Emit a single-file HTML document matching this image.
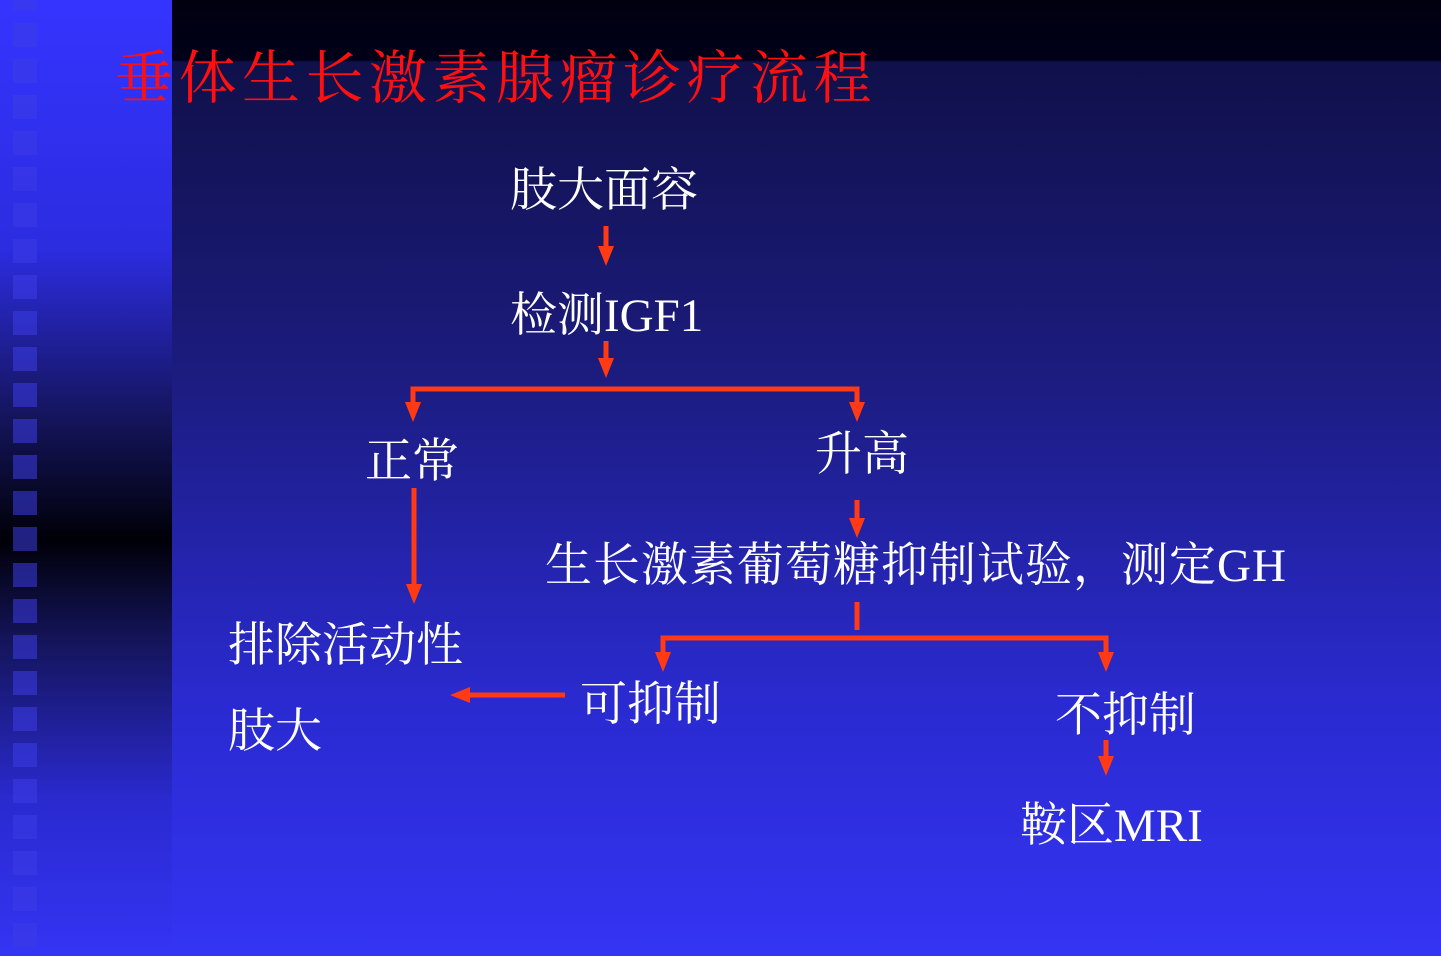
<!DOCTYPE html>
<html><head><meta charset="utf-8"><style>
body{margin:0;width:1441px;height:956px;overflow:hidden;position:relative;
background:linear-gradient(#000010 0,#000018 60px,#10104a 62px,#1c1c80 380px,#2a2ad0 700px,#3434f4 956px);}
#strip{position:absolute;left:0;top:0;width:172px;height:956px;
background:linear-gradient(#3434ff 0,#2c2ce0 250px,#14145a 420px,#000008 540px,#14145a 640px,#2a2ad0 800px,#3434f4 956px);}
.sq{position:absolute;left:13px;width:24px;height:24px;background:rgba(60,60,230,0.55);}
.t{position:absolute;color:#fff;font-family:"Liberation Serif","Noto Serif CJK SC",serif;font-size:47px;line-height:1;white-space:nowrap;}
</style></head><body>
<div id="strip"></div>
<script>
for(let y=-13;y<956;y+=36){document.write('<div class="sq" style="top:'+y+'px"></div>');}
</script>
<div class="t" style="left:115px;top:50px;color:#ff1010;font-size:58px;letter-spacing:5.5px;">垂体生长激素腺瘤诊疗流程</div>
<div class="t" style="left:510px;top:168px;">肢大面容</div>
<div class="t" style="left:510px;top:293px;">检测IGF1</div>
<div class="t" style="left:365px;top:439px;">正常</div>
<div class="t" style="left:815px;top:432px;">升高</div>
<div class="t" style="left:545px;top:543px;letter-spacing:1px;">生长激素葡萄糖抑制试验，测定GH</div>
<div class="t" style="left:228px;top:623px;">排除活动性</div>
<div class="t" style="left:228px;top:709px;">肢大</div>
<div class="t" style="left:580px;top:682px;">可抑制</div>
<div class="t" style="left:1055px;top:693px;">不抑制</div>
<div class="t" style="left:1020px;top:803px;">鞍区MRI</div>
<svg style="position:absolute;left:0;top:0" width="1441" height="956">
<defs><marker id="a" markerWidth="4" markerHeight="4" refX="2" refY="2" orient="auto" markerUnits="strokeWidth"><path d="M0,0.4 L4,2 L0,3.6z" fill="#ff3a14"/></marker></defs>
<g stroke="#ff3a14" stroke-width="5" fill="none">
<line x1="606" y1="226" x2="606" y2="256" marker-end="url(#a)"/>
<line x1="606" y1="341" x2="606" y2="368" marker-end="url(#a)"/>
<polyline points="413,412 413,389 857,389 857,412" marker-end="url(#a)"/>
<line x1="413" y1="389" x2="413" y2="412" marker-end="url(#a)"/>
<line x1="857" y1="500" x2="857" y2="528" marker-end="url(#a)"/>
<line x1="857" y1="602" x2="857" y2="630"/>
<polyline points="663,662 663,638 1106,638 1106,662" marker-end="url(#a)"/>
<line x1="663" y1="638" x2="663" y2="662" marker-end="url(#a)"/>
<line x1="414" y1="488" x2="414" y2="594" marker-end="url(#a)"/>
<line x1="565" y1="695" x2="460" y2="695" marker-end="url(#a)"/>
<line x1="1106" y1="740" x2="1106" y2="766" marker-end="url(#a)"/>
</g></svg>
</body></html>
